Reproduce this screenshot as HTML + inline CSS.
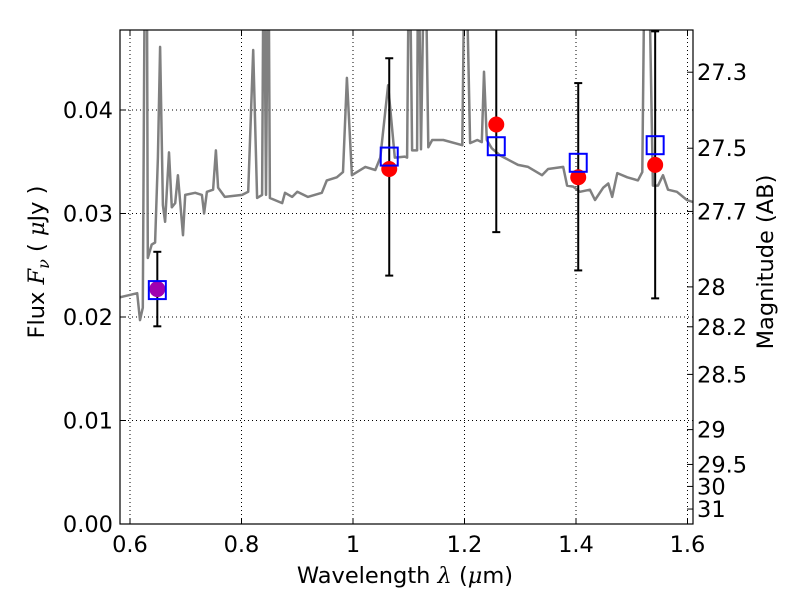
<!DOCTYPE html>
<html><head><meta charset="utf-8"><style>
html,body{margin:0;padding:0;background:#fff;}
svg{display:block;font-family:"DejaVu Sans","Liberation Sans",sans-serif;}
</style></head><body>
<svg id="chart" width="800" height="600" viewBox="0 0 800 600" xmlns="http://www.w3.org/2000/svg">
<rect width="800" height="600" fill="#fff"/>
<defs><clipPath id="clip"><rect x="120" y="30" width="573" height="494"/></clipPath></defs>
<g id="grid"></g>
<g id="marks" clip-path="url(#clip)"></g>
<g id="axes"></g>
</svg>
<script>
const specLam=[0.582,0.613,0.618,0.623,0.627,0.630,0.632,0.639,0.645,0.650,0.654,0.659,0.663,0.670,0.675,0.681,0.686,0.695,0.699,0.717,0.729,0.733,0.738,0.749,0.754,0.758,0.770,0.801,0.812,0.821,0.828,0.837,0.840,0.844,0.848,0.851,0.873,0.878,0.891,0.900,0.919,0.944,0.953,0.971,0.982,0.989,0.998,1.022,1.040,1.049,1.063,1.075,1.093,1.097,1.101,1.106,1.115,1.117,1.122,1.129,1.135,1.142,1.162,1.196,1.201,1.210,1.223,1.231,1.235,1.240,1.249,1.264,1.296,1.314,1.339,1.350,1.377,1.384,1.395,1.407,1.425,1.434,1.449,1.458,1.465,1.474,1.492,1.511,1.519,1.524,1.529,1.538,1.547,1.556,1.565,1.581,1.599,1.610];
const specFlux=[0.0219,0.0223,0.0197,0.0209,0.060,0.060,0.0257,0.0270,0.0272,0.0354,0.0461,0.0308,0.0292,0.0359,0.0306,0.0310,0.0337,0.0279,0.0318,0.0320,0.0318,0.0300,0.0321,0.0323,0.0361,0.0325,0.0316,0.0318,0.0321,0.0458,0.0315,0.0318,0.060,0.0318,0.060,0.0315,0.0310,0.0320,0.0316,0.0321,0.0316,0.0320,0.0332,0.0335,0.0340,0.0431,0.0337,0.0345,0.0342,0.0354,0.0424,0.0354,0.0355,0.0354,0.060,0.0361,0.0361,0.060,0.0362,0.060,0.0364,0.0371,0.0371,0.0366,0.060,0.0368,0.0371,0.0369,0.0437,0.0371,0.0363,0.0356,0.0347,0.0345,0.0337,0.0343,0.0345,0.0327,0.0326,0.0321,0.0323,0.0313,0.0325,0.0329,0.0316,0.0339,0.0335,0.0332,0.0340,0.060,0.060,0.0327,0.0327,0.0337,0.0323,0.0321,0.0313,0.0311];
const bandLam=[0.649,1.065,1.257,1.404,1.542];
const modelFlux=[0.0226,0.0355,0.0365,0.0349,0.0366];
const obsFlux=[0.0227,0.0343,0.0386,0.0335,0.0347];
const errLow=[0.0191,0.0240,0.0282,0.0245,0.0218];
const errHigh=[0.0263,0.0450,0.0490,0.0426,0.0476];
const xTicks=[0.6,0.8,1.0,1.2,1.4,1.6];
const xTickLabels=["0.6","0.8","1","1.2","1.4","1.6"];
const yTicks=[0,0.01,0.02,0.03,0.04];
const yTickLabels=["0.00","0.01","0.02","0.03","0.04"];
const magTicks=[27.3,27.5,27.7,28,28.2,28.5,29,29.5,30,31];
const magTickLabels=["27.3","27.5","27.7","28","28.2","28.5","29","29.5","30","31"];

const X0=120,X1=693,Y0=30,Y1=524;
const FS=22.5;
function xs(l){return 130+(l-0.6)*557.5;}
function ys(f){return 524-f*10350;}
function magY(m){return ys(Math.pow(10,(23.9-m)/2.5));}
const NS="http://www.w3.org/2000/svg";
function mk(tag,attrs,parent,text){const e=document.createElementNS(NS,tag);for(const k in attrs)e.setAttribute(k,attrs[k]);if(text!==undefined)e.textContent=text;parent.appendChild(e);return e;}
const grid=document.getElementById('grid'),marks=document.getElementById('marks'),axes=document.getElementById('axes');

xTicks.forEach((t,i)=>{const x=xs(t);
 let g=mk('line',{x1:x,x2:x,y1:Y0,y2:Y1,stroke:'#000','stroke-width':1,'stroke-dasharray':'1,3'},grid);
 
 
 let tk=mk('line',{x1:x,x2:x,y1:Y1,y2:Y1-6,stroke:'#000'},axes);
 
 
 let tk2=mk('line',{x1:x,x2:x,y1:Y0,y2:Y0+6,stroke:'#000'},axes);
 
 
 let lb=mk('text',{x:x,y:552,'text-anchor':'middle','font-size':FS},axes,xTickLabels[i]);
 
 
});
yTicks.forEach((t,i)=>{const y=ys(t);
 let g=mk('line',{x1:X0,x2:X1,y1:y,y2:y,stroke:'#000','stroke-width':1,'stroke-dasharray':'1,3'},grid);
 
 
 let tk=mk('line',{x1:X0,x2:X0+6,y1:y,y2:y,stroke:'#000'},axes);
 
 
 let lb=mk('text',{x:113,y:y+8,'text-anchor':'end','font-size':FS},axes,yTickLabels[i]);
 
 
});
magTicks.forEach((m,i)=>{const y=magY(m);
 let tk=mk('line',{x1:X1,x2:X1-6,y1:y,y2:y,stroke:'#000'},axes);
 
 
 let lb=mk('text',{x:697,y:y+8,'text-anchor':'start','font-size':FS},axes,magTickLabels[i]);
 
 
});

let pts=specLam.map((l,i)=>xs(l).toFixed(1)+','+ys(specFlux[i]).toFixed(1)).join(' ');
let sp=mk('polyline',{points:pts,fill:'none',stroke:'#808080','stroke-width':2.5,'stroke-linejoin':'round'},marks);



bandLam.forEach((l,i)=>{const x=xs(l);
 let e=mk('line',{x1:x,x2:x,y1:ys(errLow[i]),y2:ys(errHigh[i]),stroke:'#000','stroke-width':2},marks);
 
 
 [errLow[i],errHigh[i]].forEach(v=>{let c=mk('line',{x1:x-4,x2:x+4,y1:ys(v),y2:ys(v),stroke:'#000','stroke-width':2},marks);
  
  });
 let d=mk('circle',{cx:x,cy:ys(obsFlux[i]),r:8,fill:i===0?'#a000b0':'#ff0000'},marks);
 
 
 let s=mk('rect',{x:xs(l)-8.5,y:ys(modelFlux[i])-9,width:17,height:18,fill:'none',stroke:'#0000ff','stroke-width':2},marks);
 
 
});

let fr=mk('rect',{x:X0,y:Y0,width:X1-X0,height:Y1-Y0,fill:'none',stroke:'#000','stroke-width':1.2},axes);


let xl=mk('text',{x:405,y:583,'text-anchor':'middle','font-size':FS},axes);
xl.innerHTML='Wavelength  <tspan font-style="italic" font-family="DejaVu Serif, serif">λ</tspan> (<tspan font-style="italic" font-family="DejaVu Serif, serif">μ</tspan>m)';


let yl=mk('text',{x:0,y:0,'text-anchor':'middle','font-size':FS,transform:'translate(44,262) rotate(-90)'},axes);
yl.innerHTML='Flux  <tspan font-style="italic" font-family="DejaVu Serif, serif">F</tspan><tspan font-style="italic" font-family="DejaVu Serif, serif" font-size="16" dy="5">ν</tspan><tspan dy="-5">  (  </tspan><tspan font-style="italic" font-family="DejaVu Serif, serif">μ</tspan>Jy )';


let rl=mk('text',{x:0,y:0,'text-anchor':'middle','font-size':FS,transform:'translate(773,262) rotate(-90)'},axes,'Magnitude (AB)');


</script>
</body></html>
